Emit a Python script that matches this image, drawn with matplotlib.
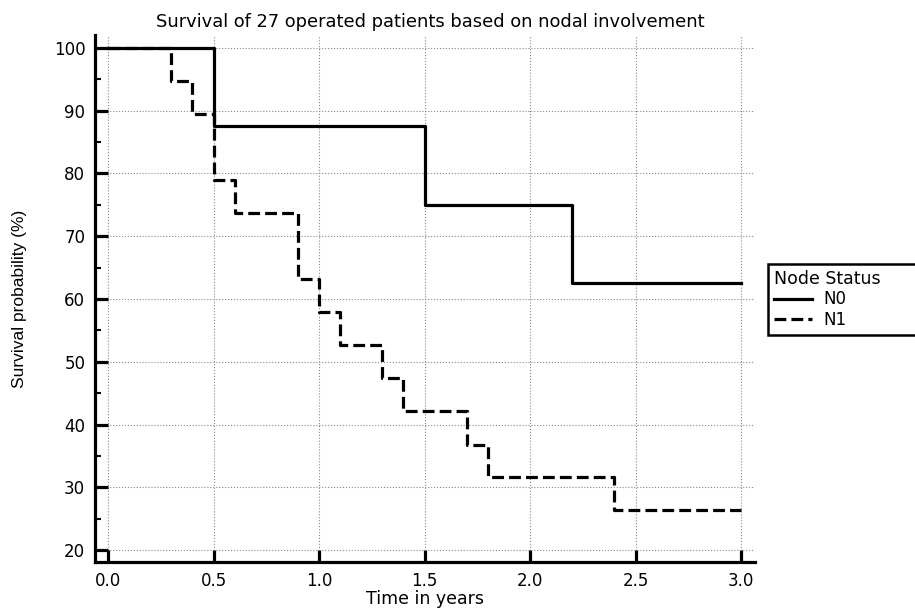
import matplotlib
matplotlib.use("Agg")
import matplotlib.pyplot as plt
from matplotlib.ticker import MultipleLocator
from matplotlib.patches import Rectangle

plt.rcParams['font.family'] = ['DejaVu Sans']

# Kaplan-Meier step data
n0_times = [0.0, 0.5, 1.5, 2.2, 3.0]
n0_surv = [100.0, 87.5, 75.0, 62.5, 62.5]

n1_times = [0.0, 0.3, 0.4, 0.5, 0.6, 0.9, 1.0, 1.1, 1.3, 1.4, 1.7, 1.8, 2.4, 3.0]
n1_surv = [100.0, 94.7, 89.5, 78.9, 73.7, 63.2, 57.9, 52.6, 47.4, 42.1, 36.8, 31.6, 26.3, 26.3]

series_labels = ["N0", "N1"]
x_ticks = [0.0, 0.5, 1.0, 1.5, 2.0, 2.5, 3.0]
y_ticks = [20, 30, 40, 50, 60, 70, 80, 90, 100]

W, H = 915, 611
fig = plt.figure(figsize=(W / 100, H / 100), dpi=100)
ax = fig.add_axes([95 / W, 1 - 562 / H, (755 - 95) / W, (562 - 35) / H])

ax.step(n0_times, n0_surv, where='post', color='black', lw=2.3, label=series_labels[0])
ax.step(n1_times, n1_surv, where='post', color='black', lw=2.3, ls='--', label=series_labels[1])

ax.set_xlim(-0.0616, 3.066)
ax.set_ylim(18.09, 102.07)
ax.set_xticks(x_ticks)
ax.set_xticklabels([f"{t:.1f}" for t in x_ticks])
ax.set_yticks(y_ticks)
ax.yaxis.set_minor_locator(MultipleLocator(5))

for s in ['top', 'right']:
    ax.spines[s].set_visible(False)
for s in ['left', 'bottom']:
    ax.spines[s].set_linewidth(2.3)

ax.tick_params(axis='both', which='major', direction='in', length=9, width=2.3, labelsize=12)
ax.tick_params(axis='y', which='minor', direction='in', length=4, width=1.5)
ax.tick_params(axis='x', which='major', pad=7)
ax.tick_params(axis='y', which='major', pad=7)

ax.grid(True, which='major', color='#888888', ls=':', lw=0.8)
ax.set_axisbelow(True)

ax.set_title("Survival of 27 operated patients based on nodal involvement",
             fontsize=12.9, pad=6, x=0.508)
ax.set_xlabel("Time in years", fontsize=12.5, labelpad=0.5)
ax.set_ylabel("Survival probability (%)", fontsize=12.5, labelpad=19,
              family=['Liberation Sans', 'DejaVu Sans'])

leg_x0 = 768 / W
leg_top = 1 - 264 / H
leg = fig.legend(loc='upper left', bbox_to_anchor=(leg_x0, leg_top),
                 bbox_transform=fig.transFigure, borderaxespad=0, title="Node Status",
                 fontsize=12, title_fontsize=12.5, frameon=False,
                 handlelength=2.3, handletextpad=0.7, alignment='left',
                 borderpad=0.35, labelspacing=0.15)

# Legend frame running off the right edge of the figure
fig.canvas.draw()
bb = leg.get_window_extent().transformed(fig.transFigure.inverted())
frame = Rectangle((bb.x0, bb.y0), 1.2 - bb.x0, bb.height, transform=fig.transFigure,
                  facecolor='white', edgecolor='black', lw=1.8, zorder=leg.get_zorder() - 0.1,
                  clip_on=False)
fig.add_artist(frame)

fig.savefig("out.png", dpi=100)
